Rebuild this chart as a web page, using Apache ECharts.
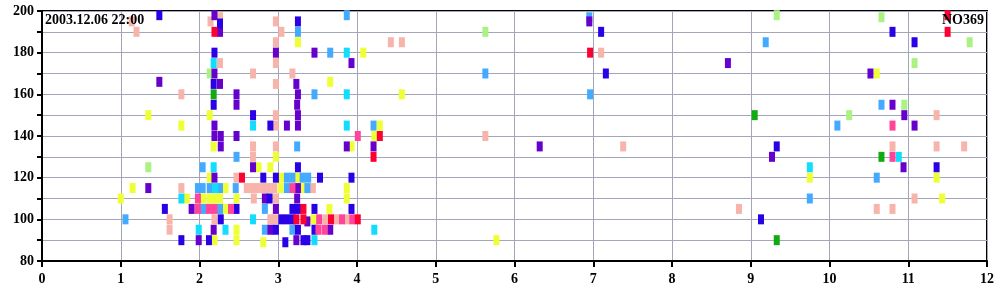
<!DOCTYPE html>
<html>
<head>
<meta charset="utf-8">
<script src="https://cdn.jsdelivr.net/npm/echarts@6/dist/echarts.min.js"></script>
<style>html,body{margin:0;padding:0;background:#fff}#c{width:1000px;height:300px}</style>
</head>
<body>
<div id="c"></div>
<script>
const titleLeft = '2003.12.06 22:00';
const titleRight = 'NO369';
const xTicks = [0,1,2,3,4,5,6,7,8,9,10,11,12];
const yTicks = [80,100,120,140,160,180,200];

const blue = [[1.49,198],[2.26,194],[2.19,180],[2.18,165],[3.25,195],[2.18,155],[2.68,150],[2.9,145],[3.25,125],[2.81,120],[2.97,120],[3.53,120],[3.93,120],[2.89,110],[1.56,105],[2.47,105],[3.18,105],[3.25,105],[3.46,105],[3.93,105],[2.27,100],[3.04,100],[3.11,100],[3.18,100],[2.97,95],[3.25,95],[3.46,95],[1.77,90],[2.12,90],[3.09,89],[3.32,90],[3.37,90],[7.1,190],[7.16,170],[9.13,100],[9.33,135],[10.8,190],[11.08,185],[11.36,125]];
const purple = [[2.19,198],[2.26,190],[2.19,170],[2.26,165],[1.49,166],[2.47,160],[2.97,180],[3.46,180],[3.93,175],[3.23,165],[3.25,160],[2.47,155],[3.24,155],[3.25,150],[2.19,145],[3.11,145],[3.25,145],[2.19,140],[2.27,140],[2.47,140],[2.27,135],[3.87,135],[4.21,135],[2.68,125],[2.19,120],[1.35,115],[3.25,115],[2.83,110],[3.24,110],[1.9,105],[2.97,105],[3.37,99],[2.18,95],[2.9,95],[3.66,95],[1.99,90],[3.23,90],[6.95,195],[6.32,135],[8.71,175],[9.27,130],[10.52,170],[10.8,155],[10.95,150],[11.08,145],[10.94,125]];
const salmon = [[1.14,195],[1.2,190],[1.77,160],[2.14,195],[2.26,197],[2.26,175],[2.97,195],[3.04,190],[2.97,185],[2.97,175],[2.68,170],[3.18,170],[2.97,165],[2.97,150],[2.97,145],[2.68,135],[2.97,135],[2.68,130],[2.47,120],[1.77,115],[2.6,115],[2.67,115],[2.74,115],[2.81,115],[2.88,115],[2.95,115],[3.44,115],[2.69,110],[2.97,110],[1.62,100],[1.62,95],[2.19,100],[2.9,100],[2.96,100],[3.6,100],[3.74,100],[3.87,100],[4.43,185],[4.57,185],[5.63,140],[7.1,180],[7.38,135],[8.85,105],[11.36,150],[10.8,135],[11.36,135],[11.71,135],[11.08,110],[10.6,105],[10.8,105]];
const lightBlue = [[3.87,198],[3.25,190],[3.66,180],[3.46,160],[2.47,130],[3.24,135],[2.04,125],[3.11,120],[3.18,120],[3.31,120],[3.38,120],[1.98,115],[2.04,115],[2.13,115],[2.26,115],[2.46,115],[3.11,115],[3.37,115],[2.05,105],[2.26,105],[2.83,105],[1.06,100],[2.83,95],[3.18,95],[4.21,145],[5.63,170],[6.95,197],[6.96,160],[9.19,185],[10.66,155],[10.1,145],[10.6,120],[9.75,110]];
const cyan = [[2.18,175],[3.87,180],[3.87,160],[2.68,145],[3.87,145],[2.18,125],[2.2,115],[1.77,110],[2.68,100],[1.99,95],[2.33,95],[3.46,90],[4.22,95],[10.88,130],[9.75,125]];
const yellow = [[3.25,185],[4.08,180],[3.66,166],[4.57,160],[1.35,150],[2.13,150],[1.77,145],[4.29,145],[4.22,140],[2.18,135],[3.93,135],[2.97,130],[2.75,125],[2.9,125],[2.13,120],[3.04,120],[3.24,120],[1.15,115],[2.33,115],[3.03,115],[3.32,115],[3.87,115],[1.0,110],[1.84,110],[2.05,110],[2.13,110],[2.2,110],[2.26,110],[2.47,110],[3.87,110],[2.33,105],[3.65,105],[3.45,100],[2.47,95],[2.19,90],[2.47,90],[2.81,89],[5.77,90],[10.6,170],[9.75,120],[11.36,120],[11.43,110]];
const magenta = [[4.01,140],[3.18,115],[1.98,110],[1.98,105],[2.12,105],[2.19,105],[2.4,105],[3.52,100],[3.81,100],[3.94,100],[3.51,95],[3.59,95],[10.8,145],[10.8,130]];
const red = [[2.19,190],[2.54,120],[4.29,140],[4.21,130],[3.23,100],[3.32,100],[3.32,105],[3.67,100],[4.01,100],[6.96,180],[11.5,198],[11.5,190]];
const green = [[2.18,160],[9.05,150],[9.33,90],[10.66,130]];
const lightGreen = [[2.13,170],[1.35,125],[5.63,190],[9.33,198],[10.66,197],[11.78,185],[11.08,175],[10.95,155],[10.25,150]];

const groups = [
  ['salmon', salmon, '#f6b4aa'],
  ['lightGreen', lightGreen, '#aaf283'],
  ['yellow', yellow, '#eeff33'],
  ['lightBlue', lightBlue, '#44aaff'],
  ['cyan', cyan, '#11ddff'],
  ['purple', purple, '#6600cc'],
  ['blue', blue, '#2a00e6'],
  ['magenta', magenta, '#ff4499'],
  ['red', red, '#ff0033'],
  ['green', green, '#11aa11']
];

const axisFont = {fontFamily:'Liberation Serif', fontWeight:'bold', fontSize:14, color:'#000'};
const chart = echarts.init(document.getElementById('c'), null, {renderer:'canvas'});
chart.setOption({
  animation:false,
  grid:{left:42, right:13, top:11, bottom:39, show:true, borderColor:'#000', borderWidth:2, backgroundColor:'#fff'},
  xAxis:{type:'value', min:xTicks[0], max:xTicks[xTicks.length-1], interval:1,
    axisLine:{lineStyle:{color:'#000', width:2}},
    axisTick:{show:true, length:6, lineStyle:{color:'#000', width:2}},
    axisLabel:Object.assign({margin:11}, axisFont),
    splitLine:{show:true, lineStyle:{color:'#a3a6b8', width:1}}},
  yAxis:{type:'value', min:yTicks[0], max:yTicks[yTicks.length-1], interval:10,
    axisLine:{show:true, lineStyle:{color:'#000', width:2}},
    axisTick:{show:true, length:5, lineStyle:{color:'#000', width:2}},
    axisLabel:Object.assign({margin:8, formatter:v => yTicks.includes(v) ? String(v) : ''}, axisFont),
    splitLine:{show:true, lineStyle:{color:'#a3a6b8', width:1}}},
  graphic:[
    {type:'text', left:45, top:13, z:100, style:{text:titleLeft, font:'bold 14px "Liberation Serif"', fill:'#000'}},
    {type:'text', right:16, top:13, z:100, style:{text:titleRight, font:'bold 14px "Liberation Serif"', fill:'#000'}}
  ],
  series: groups.map(g => ({
    name:g[0], type:'scatter', data:g[1], symbol:'rect', symbolSize:[6,10], clip:true,
    itemStyle:{color:g[2], opacity:1}, emphasis:{disabled:true}
  }))
});
</script>
</body>
</html>
